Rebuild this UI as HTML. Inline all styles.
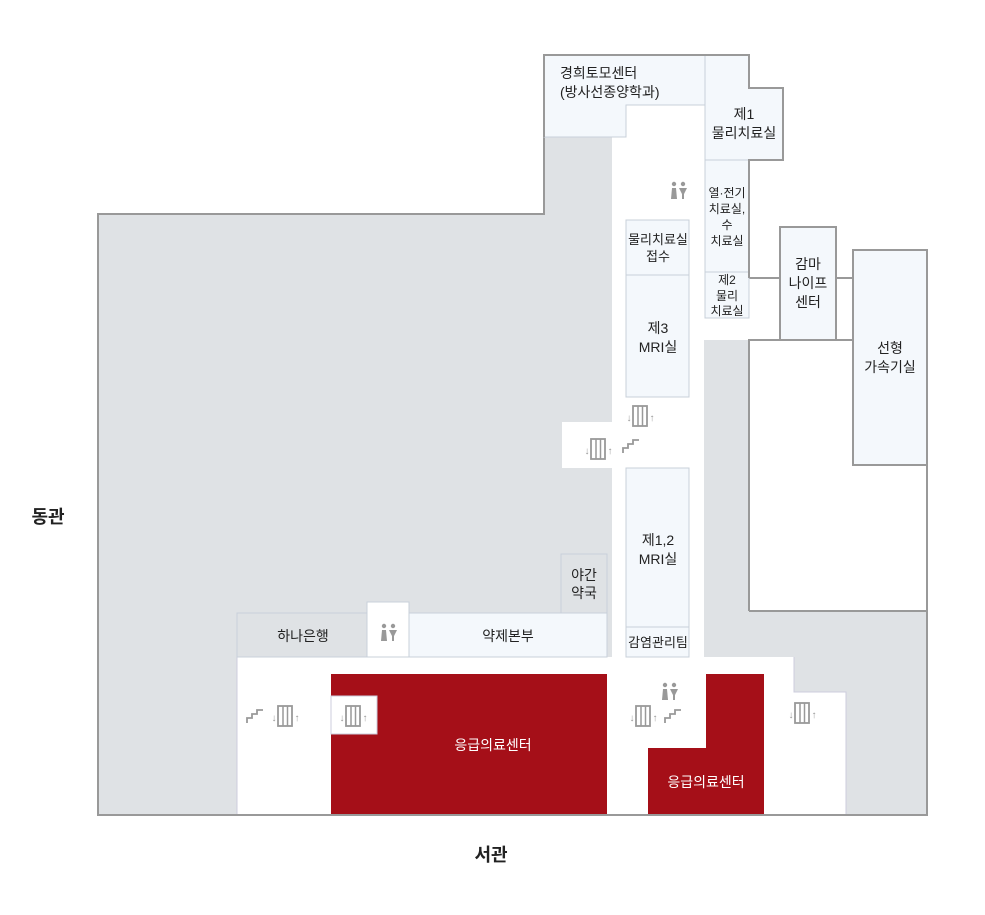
<!DOCTYPE html>
<html><head><meta charset="utf-8"><style>
body{margin:0;background:#fff;}
svg{display:block;font-family:"Liberation Sans","Noto Sans CJK KR",sans-serif;}
text{fill:#222;font-size:14px;text-anchor:middle;}
.s{font-size:12px;}
.w{fill:#fff;}
.b{font-size:18px;font-weight:bold;}
</style></head><body>
<svg width="985" height="915" viewBox="0 0 985 915">
<defs>
<g id="el"><text x="-11" y="5" style="font-size:10px;fill:#999">↓</text><rect x="-7" y="-10" width="14" height="20" fill="none" stroke="#999" stroke-width="1.8"/><line x1="-2" y1="-10" x2="-2" y2="10" stroke="#999" stroke-width="1.5"/><line x1="2.5" y1="-10" x2="2.5" y2="10" stroke="#999" stroke-width="1.5"/><text x="12" y="5" style="font-size:10px;fill:#999">↑</text></g>
<g id="st"><polyline points="-8,7 -8,2 -3,2 -3,-2 2,-2 2,-6 8,-6" fill="none" stroke="#999" stroke-width="1.8"/></g>
<g id="wc" fill="#999"><circle cx="-4" cy="-8" r="2.2"/><polygon points="-6,-4 -2,-4 -1,7 -7,7"/><circle cx="5" cy="-8" r="2.2"/><polygon points="1,-4 9,-4 6,2 6,7 4,7 4,2"/></g>
</defs>
<polygon points="98,214 544,214 544,55 749,55 749,88 783,88 783,160 749,160 749,278 780,278 780,227 836,227 836,278 853,278 853,250 927,250 927,815 98,815" fill="#dfe2e5" stroke="#999" stroke-width="2"/>
<polygon points="626,105 705,105 705,318 749,318 749,340 704,340 704,657 794,657 794,692 846,692 846,815 237,815 237,657 612,657 612,468 562,468 562,422 612,422 612,137 626,137" fill="#fff"/>
<polygon points="749,279 853,279 853,465 927,465 927,611 749,611" fill="#fff"/>
<polyline points="749,611 749,340 853,340" fill="none" stroke="#999" stroke-width="2"/>
<polyline points="853,465 927,465 927,611 749,611" fill="none" stroke="#999" stroke-width="2"/>
<line x1="836" y1="278" x2="853" y2="278" stroke="#999" stroke-width="2"/>
<line x1="749" y1="278" x2="780" y2="278" stroke="#999" stroke-width="2"/>
<polyline points="237,815 237,657" stroke="#ccd" fill="none"/>
<polyline points="794,657 794,692 846,692 846,815" stroke="#ccd" fill="none"/>
<g fill="#f4f8fc" stroke="#c8d0da" stroke-width="1">
<polygon points="544,55 705,55 705,105 626,105 626,137 544,137"/>
<polygon points="705,55 749,55 749,88 783,88 783,160 705,160"/>
<rect x="705" y="160" width="44" height="112"/>
<rect x="705" y="272" width="44" height="46"/>
<rect x="626" y="220" width="63" height="55"/>
<rect x="626" y="275" width="63" height="122"/>
<rect x="626" y="468" width="63" height="159"/>
<rect x="626" y="627" width="63" height="30"/>
<rect x="409" y="613" width="198" height="44"/>
</g>
<rect x="780" y="227" width="56" height="113" fill="#f4f8fc" stroke="#999" stroke-width="2"/>
<rect x="853" y="250" width="74" height="215" fill="#f4f8fc" stroke="#999" stroke-width="2"/>
<polyline points="705,55 749,55 749,88 783,88 783,160 749,160 749,278" fill="none" stroke="#999" stroke-width="2"/>
<polyline points="544,137 544,55 705,55" fill="none" stroke="#999" stroke-width="2"/>
<rect x="561" y="554" width="46" height="59" fill="#dfe2e5" stroke="#c8d0da"/>
<rect x="237" y="613" width="130" height="44" fill="#dfe2e5" stroke="#c8d0da"/>
<rect x="367" y="602" width="42" height="55" fill="#fff" stroke="#c8d0da"/>
<polygon points="331,674 607,674 607,815 331,815 331,734 377,734 377,696 331,696" fill="#a50f18"/>
<polygon points="706,674 764,674 764,815 648,815 648,748 706,748" fill="#a50f18"/>
<rect x="331" y="696" width="46" height="38" fill="#fff" stroke="#ccd"/>
<line x1="98" y1="815" x2="927" y2="815" stroke="#999" stroke-width="2"/>
<text x="560" y="78" style="text-anchor:start">경희토모센터</text>
<text x="560" y="97" style="text-anchor:start">(방사선종양학과)</text>
<text x="744" y="119">제1</text><text x="744" y="138">물리치료실</text>
<text x="727" y="197" class="s">열·전기</text><text x="727" y="213" class="s">치료실,</text><text x="727" y="229" class="s">수</text><text x="727" y="245" class="s">치료실</text>
<text x="727" y="284" class="s">제2</text><text x="727" y="300" class="s">물리</text><text x="727" y="315" class="s">치료실</text>
<text x="658" y="244" style="font-size:13px">물리치료실</text><text x="658" y="261" style="font-size:13px">접수</text>
<text x="658" y="333">제3</text><text x="658" y="352">MRI실</text>
<text x="808" y="269">감마</text><text x="808" y="288">나이프</text><text x="808" y="307">센터</text>
<text x="890" y="353">선형</text><text x="890" y="372">가속기실</text>
<text x="658" y="545">제1,2</text><text x="658" y="564">MRI실</text>
<text x="658" y="647" style="font-size:13px">감염관리팀</text>
<text x="584" y="580">야간</text><text x="584" y="598">약국</text>
<text x="303" y="641">하나은행</text>
<text x="508" y="641">약제본부</text>
<text x="493" y="750" class="w">응급의료센터</text>
<text x="706" y="787" class="w">응급의료센터</text>
<text x="48" y="523" class="b">동관</text>
<text x="491" y="861" class="b">서관</text>
<use href="#wc" x="678" y="192"/>
<use href="#wc" x="388" y="634"/>
<use href="#wc" x="669" y="693"/>
<use href="#el" x="640" y="416"/>
<use href="#el" x="598" y="449"/>
<use href="#st" x="631" y="446"/>
<use href="#st" x="255" y="716"/>
<use href="#el" x="285" y="716"/>
<use href="#el" x="353" y="716"/>
<use href="#el" x="643" y="716"/>
<use href="#st" x="673" y="716"/>
<use href="#el" x="802" y="713"/>
</svg>
</body></html>
